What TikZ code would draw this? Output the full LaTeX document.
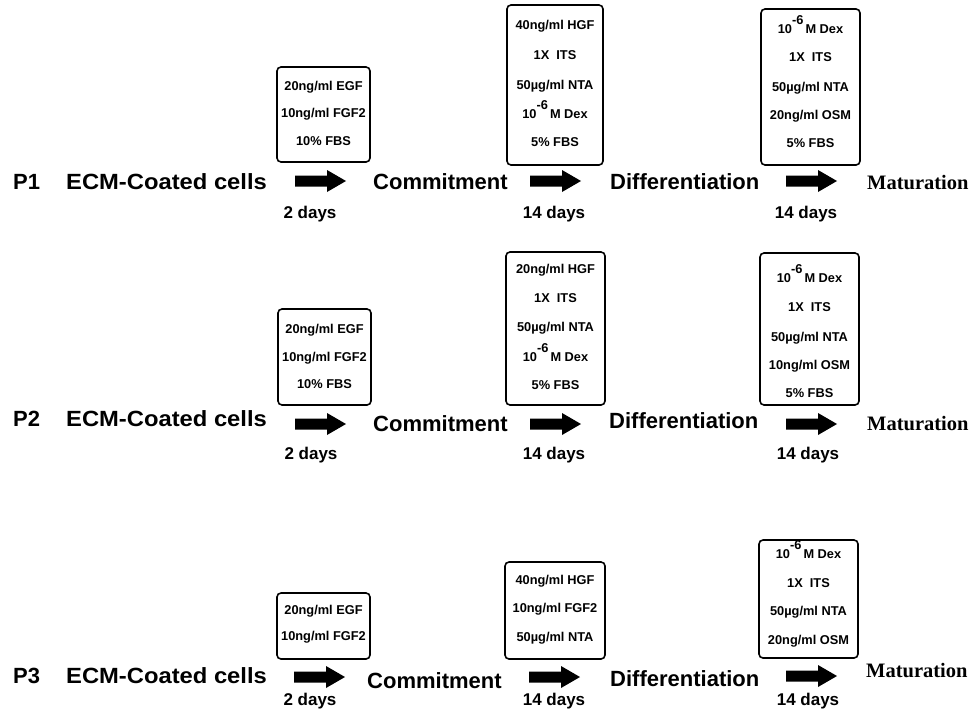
\documentclass[tikz,border=0pt]{standalone}
\usepackage{fontspec}
\setmainfont{Liberation Sans}
\newfontfamily\matfont{Liberation Serif}
\begin{document}
\begin{tikzpicture}[x=1pt,y=-1pt,
  stagelbl/.style={font=\fontsize{22}{24}\selectfont\bfseries, inner sep=0, anchor=base west},
  matlbl/.style={font=\matfont\fontsize{20.5}{22}\selectfont\bfseries, inner sep=0, anchor=base west},
  dayslbl/.style={font=\fontsize{17}{19}\selectfont\bfseries, inner sep=0, anchor=base},
  boxlbl/.style={font=\fontsize{12.8}{14}\selectfont\bfseries, inner sep=0, anchor=base},
  mediumbox/.style={draw, line width=1.6pt, rounded corners=4pt, inner sep=0},
]
\useasboundingbox (0,0) rectangle (973,712);
\newcommand\dexline{10\raisebox{9pt}{-6}\,M Dex}
\newcommand\blockarrow[3]{%
  \coordinate (#1) at (#2,#3);
  \fill (#1) ++(0,-5.5) -- ++(32,0) -- ++(0,-5.5) -- ++(19,11) -- ++(-19,11) -- ++(0,-5.5) -- ++(-32,0) -- cycle;}
\newcommand\boxlines[3]{%
  \foreach \ty/\tx [count=\i] in {#3} {\node[boxlbl] (#1-\i) at (#2,\ty) {\tx};}}

% ---------- P1 ----------
\node[stagelbl] (p1) at (13,189) {P1};
\node[stagelbl] (p1ecm) at (66,189) {\scalebox{1.08}[1]{ECM-Coated cells}};
\node[stagelbl] (p1com) at (373,189) {Commitment};
\node[stagelbl] (p1dif) at (610,189) {Differentiation};
\node[matlbl] (p1mat) at (867,189) {Maturation};
\blockarrow{p1a1}{295}{181}
\blockarrow{p1a2}{530}{181}
\blockarrow{p1a3}{786}{181}
\node[dayslbl] (p1d1) at (310,218.5) {2 days};
\node[dayslbl] (p1d2) at (554,218.5) {14 days};
\node[dayslbl] (p1d3) at (806,218.5) {14 days};
\draw[mediumbox] (277,67) rectangle (370,162);
\boxlines{p1b1}{323.5}{90.5/{20ng/ml EGF},117.5/{10ng/ml FGF2},145.5/{10\% FBS}}
\draw[mediumbox] (507,5) rectangle (603,165);
\boxlines{p1b2}{555}{29.5/{40ng/ml HGF},59.5/{1X\ \ ITS},89.5/{50µg/ml NTA},118.5/{\dexline},146.5/{5\% FBS}}
\draw[mediumbox] (761,9) rectangle (860,165);
\boxlines{p1b3}{810.5}{33.5/{\dexline},61.5/{1X\ \ ITS},91.5/{50µg/ml NTA},119.5/{20ng/ml OSM},147.5/{5\% FBS}}

% ---------- P2 ----------
\node[stagelbl] (p2) at (13,426) {P2};
\node[stagelbl] (p2ecm) at (66,426) {\scalebox{1.08}[1]{ECM-Coated cells}};
\node[stagelbl] (p2com) at (373,431) {Commitment};
\node[stagelbl] (p2dif) at (609,428) {Differentiation};
\node[matlbl] (p2mat) at (867,430) {Maturation};
\blockarrow{p2a1}{295}{424}
\blockarrow{p2a2}{530}{424}
\blockarrow{p2a3}{786}{424}
\node[dayslbl] (p2d1) at (311,459.5) {2 days};
\node[dayslbl] (p2d2) at (554,459.5) {14 days};
\node[dayslbl] (p2d3) at (808,459.5) {14 days};
\draw[mediumbox] (278,309) rectangle (371,405);
\boxlines{p2b1}{324.5}{333.5/{20ng/ml EGF},361.5/{10ng/ml FGF2},388.5/{10\% FBS}}
\draw[mediumbox] (506,252) rectangle (605,405);
\boxlines{p2b2}{555.5}{273.5/{20ng/ml HGF},302.5/{1X\ \ ITS},331.5/{50µg/ml NTA},361.5/{\dexline},389.5/{5\% FBS}}
\draw[mediumbox] (760,253) rectangle (859,405);
\boxlines{p2b3}{809.5}{282.5/{\dexline},311.5/{1X\ \ ITS},341.5/{50µg/ml NTA},369.5/{10ng/ml OSM},397.5/{5\% FBS}}

% ---------- P3 ----------
\node[stagelbl] (p3) at (13,683) {P3};
\node[stagelbl] (p3ecm) at (66,683) {\scalebox{1.08}[1]{ECM-Coated cells}};
\node[stagelbl] (p3com) at (367,688) {Commitment};
\node[stagelbl] (p3dif) at (610,686) {Differentiation};
\node[matlbl] (p3mat) at (866,677) {Maturation};
\blockarrow{p3a1}{294}{677}
\blockarrow{p3a2}{529}{677}
\blockarrow{p3a3}{786}{676}
\node[dayslbl] (p3d1) at (310,705) {2 days};
\node[dayslbl] (p3d2) at (554,705) {14 days};
\node[dayslbl] (p3d3) at (808,705) {14 days};
\draw[mediumbox] (277,593) rectangle (370,659);
\boxlines{p3b1}{323.5}{614.5/{20ng/ml EGF},640.5/{10ng/ml FGF2}}
\draw[mediumbox] (505,562) rectangle (605,659);
\boxlines{p3b2}{555}{584.5/{40ng/ml HGF},612.5/{10ng/ml FGF2},641.5/{50µg/ml NTA}}
\draw[mediumbox] (759,540) rectangle (858,658);
\boxlines{p3b3}{808.5}{558.5/{\dexline},587.5/{1X\ \ ITS},615.5/{50µg/ml NTA},644.5/{20ng/ml OSM}}
\end{tikzpicture}
\end{document}
